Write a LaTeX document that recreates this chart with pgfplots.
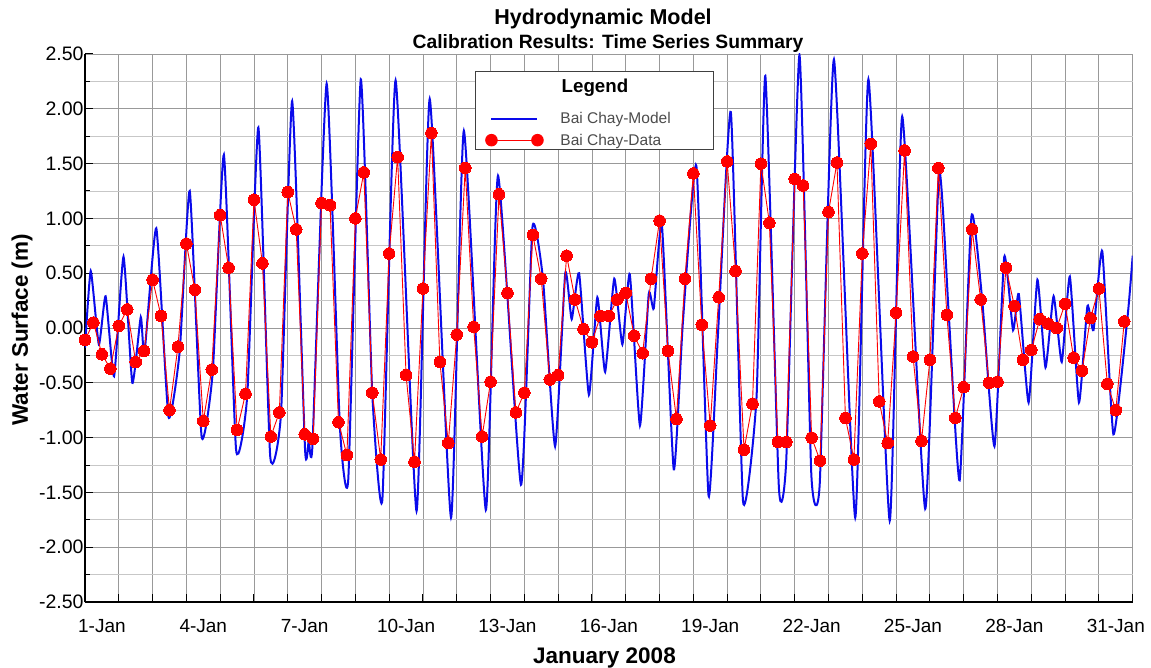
\documentclass[border=0pt]{standalone}
\usepackage{fontspec}
\setmainfont{Liberation Sans}
\usepackage{pgfplots}
\pgfplotsset{compat=1.18}
\usepackage{pgfplotstable}
\definecolor{modelblue}{RGB}{10,10,235}
\definecolor{datared}{RGB}{255,0,0}

\pgfplotstableread{
t v
0.00 -0.18
0.17 0.52
0.41 -0.15
0.61 0.29
0.86 -0.44
1.14 0.65
1.40 -0.50
1.65 0.10
1.76 -0.23
2.11 0.91
2.47 -0.81
2.80 -0.22
3.10 1.25
3.45 -0.99
3.78 -0.40
4.11 1.58
4.47 -1.11
4.80 -0.62
5.13 1.83
5.48 -1.17
5.80 -0.78
6.13 2.07
6.51 -1.10
6.62 -1.03
6.73 -1.07
7.15 2.23
7.54 -0.89
7.79 -1.38
8.16 2.27
8.50 -0.60
8.80 -1.56
9.19 2.26
9.81 -1.67
10.20 2.09
10.83 -1.73
11.21 1.80
11.86 -1.66
12.22 1.39
12.90 -1.43
13.24 0.92
13.55 0.45
13.91 -1.08
14.21 0.50
14.40 0.08
14.62 0.50
14.91 -0.61
15.16 0.28
15.39 -0.40
15.66 0.45
15.90 -0.15
16.12 0.49
16.42 -0.89
16.68 0.31
16.83 0.18
17.07 0.94
17.42 -1.29
17.69 0.05
18.09 1.48
18.45 -1.53
18.73 -0.05
19.11 1.97
19.47 -1.58
19.87 -0.63
20.13 2.30
20.53 -1.45
20.75 -1.20
21.14 2.49
21.49 -1.33
21.74 -1.42
22.16 2.45
22.79 -1.73
23.18 2.27
23.81 -1.76
24.18 1.93
24.86 -1.65
25.27 1.42
25.56 0.11
25.88 -1.39
26.23 1.02
26.54 0.28
26.91 -1.08
27.20 0.65
27.46 -0.02
27.63 0.31
27.92 -0.68
28.18 0.44
28.42 -0.36
28.66 0.29
28.90 -0.31
29.14 0.47
29.41 -0.68
29.66 0.20
29.84 -0.02
30.10 0.70
30.43 -0.97
30.85 0.11
31.00 0.66
}\modeltable

\pgfplotstableread{
t v
0.00 -0.11
0.25 0.05
0.50 -0.24
0.75 -0.37
1.00 0.02
1.25 0.17
1.50 -0.31
1.75 -0.21
2.00 0.44
2.25 0.11
2.50 -0.75
2.75 -0.17
3.00 0.77
3.25 0.35
3.50 -0.85
3.75 -0.38
4.00 1.03
4.25 0.55
4.50 -0.93
4.75 -0.60
5.00 1.17
5.25 0.59
5.50 -0.99
5.75 -0.77
6.00 1.24
6.25 0.90
6.50 -0.97
6.75 -1.01
7.00 1.14
7.25 1.12
7.50 -0.86
7.75 -1.16
8.00 1.00
8.25 1.42
8.50 -0.59
8.75 -1.20
9.00 0.68
9.25 1.56
9.50 -0.43
9.75 -1.22
10.00 0.36
10.25 1.78
10.50 -0.31
10.75 -1.05
11.00 -0.06
11.25 1.46
11.50 0.01
11.75 -0.99
12.00 -0.49
12.25 1.22
12.50 0.32
12.75 -0.77
13.00 -0.59
13.25 0.85
13.50 0.45
13.75 -0.47
14.00 -0.43
14.25 0.66
14.50 0.26
14.75 -0.01
15.00 -0.13
15.25 0.11
15.50 0.11
15.75 0.26
16.00 0.32
16.25 -0.07
16.50 -0.23
16.75 0.45
17.00 0.98
17.25 -0.21
17.50 -0.83
17.75 0.45
18.00 1.41
18.25 0.03
18.50 -0.89
18.75 0.28
19.00 1.52
19.25 0.52
19.50 -1.11
19.75 -0.69
20.00 1.50
20.25 0.96
20.50 -1.04
20.75 -1.04
21.00 1.36
21.25 1.30
21.50 -1.00
21.75 -1.21
22.00 1.06
22.25 1.51
22.50 -0.82
22.75 -1.20
23.00 0.68
23.25 1.68
23.50 -0.67
23.75 -1.05
24.00 0.14
24.25 1.62
24.50 -0.26
24.75 -1.03
25.00 -0.29
25.25 1.46
25.50 0.12
25.75 -0.82
26.00 -0.54
26.25 0.90
26.50 0.26
26.75 -0.50
27.00 -0.49
27.25 0.55
27.50 0.20
27.75 -0.29
28.00 -0.20
28.25 0.08
28.50 0.04
28.75 0.00
29.00 0.22
29.25 -0.27
29.50 -0.39
29.75 0.09
30.00 0.36
30.25 -0.51
30.50 -0.75
30.75 0.06
}\datatable

\begin{document}
\begin{tikzpicture}
\useasboundingbox (-85pt,-65pt) rectangle (1066pt,602pt);
\begin{axis}[
  scale only axis,
  width=1047.7pt, height=548pt,
  at={(0pt,0pt)}, anchor=south west,
  xmin=0, xmax=31, ymin=-2.5, ymax=2.5,
  axis x line*=bottom, axis y line*=left,
  axis line style={-, black, line width=1.6pt},
  xtick={0,...,31}, xticklabels={},
  extra x ticks={0.5,3.5,6.5,9.5,12.5,15.5,18.5,21.5,24.5,27.5,30.5},
  extra x tick labels={1-Jan,4-Jan,7-Jan,10-Jan,13-Jan,16-Jan,19-Jan,22-Jan,25-Jan,28-Jan,31-Jan},
  extra x tick style={grid=none, major tick length=0pt},
  xticklabel style={font=\fontsize{19}{22}\selectfont, yshift=-14pt},
  ytick={-2.5,-2,-1.5,-1,-0.5,0,0.5,1,1.5,2,2.5},
  yticklabels={-2.50,-2.00,-1.50,-1.00,-0.50,0.00,0.50,1.00,1.50,2.00,2.50},
  minor ytick={-2.25,-1.75,-1.25,-0.75,-0.25,0.25,0.75,1.25,1.75,2.25},
  yticklabel style={font=\fontsize{19.5}{22}\selectfont, xshift=2pt},
  tick align=inside,
  major tick length=8pt, minor tick length=5pt,
  tick style={black, line width=1pt},
  grid=both,
  major grid style={draw=black!40, line width=0.9pt},
  minor grid style={draw=black!22, line width=0.9pt},
  legend style={at={(axis cs:11.54,2.012)}, anchor=north west,
    draw=none, fill=none,
    font=\fontsize{15.5}{18}\selectfont, text=black!70,
    inner xsep=10pt, inner ysep=4pt, row sep=6.4pt,
    nodes={inner ysep=1pt}},
  legend cell align=left,
]
\addplot[modelblue, line width=2pt, smooth, tension=0.3,
  legend image code/.code={\draw[modelblue, line width=2pt] (0pt,0pt) -- (46pt,0pt); \path[draw=none,fill=none] (0pt,0pt) -- (67pt,0pt);}]
  table[x=t, y=v] {\modeltable};
\addlegendentry{Bai Chay-Model}
\addplot[datared, line width=0.9pt, mark=*, mark size=5.8pt,
  mark options={fill=datared, draw=datared, line width=0pt},
  legend image code/.code={\draw[datared, line width=0.9pt] (0pt,0pt) -- (46pt,0pt);
    \fill[datared] (0pt,0pt) circle (5.8pt); \fill[datared] (46pt,0pt) circle (5.8pt); \path[draw=none,fill=none] (0pt,0pt) -- (67pt,0pt);}]
  table[x=t, y=v] {\datatable};
\addlegendentry{Bai Chay-Data}
\draw[black!75, line width=0.8pt, fill=white] (axis cs:11.54,2.345) rectangle (axis cs:18.58,1.633);
\node[anchor=base west, inner sep=0pt, font=\bfseries\fontsize{18.7}{20}\selectfont] at (axis cs:14.10,2.147) {Legend};
\end{axis}
\node[anchor=base, font=\bfseries\fontsize{21.5}{24}\selectfont] at (518pt,577pt) {Hydrodynamic Model};
\node[anchor=base, font=\bfseries\fontsize{19.3}{22}\selectfont] at (523pt,553pt) {Calibration Results: Time Series Summary};
\node[rotate=90, anchor=center, font=\bfseries\fontsize{22.5}{26}\selectfont] at (-63pt,272pt) {Water Surface (m)};
\node[anchor=base, font=\bfseries\fontsize{22.5}{26}\selectfont] at (519.5pt,-61pt) {January 2008};
\end{tikzpicture}
\end{document}
